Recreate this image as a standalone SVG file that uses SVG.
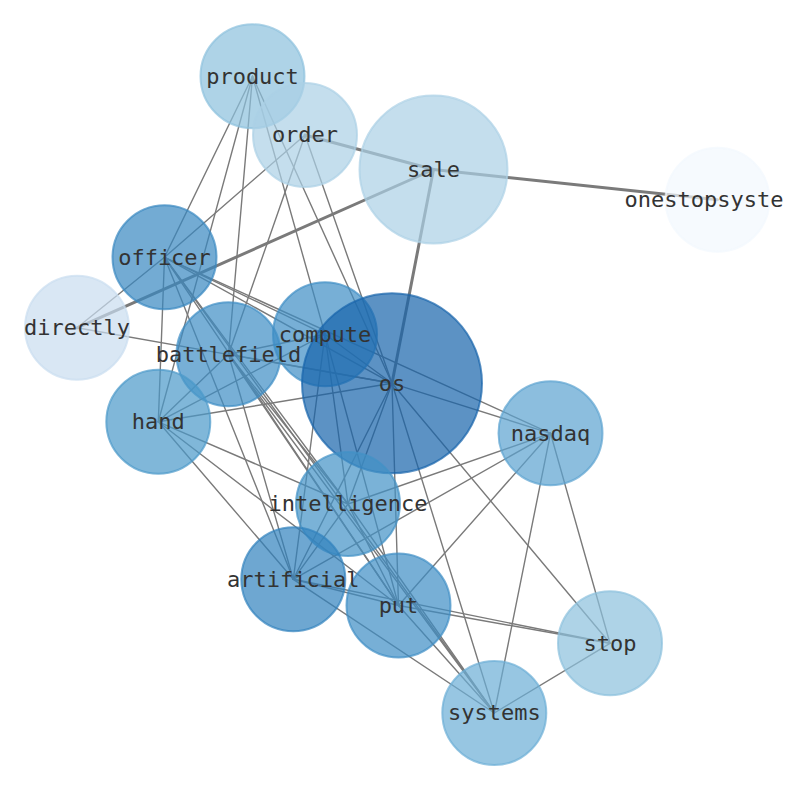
<svg xmlns="http://www.w3.org/2000/svg" width="794" height="790" viewBox="0 0 794 790">
<style>
.e line{stroke:#7a7a7a;stroke-width:1.4;stroke-linecap:round}
.e line.t{stroke-width:3}
.n circle{fill-opacity:0.7;stroke-opacity:0.7;stroke-width:2}
.n text{font-family:"DejaVu Sans Mono","Liberation Mono",monospace;font-size:22px;fill:#333;text-anchor:middle}
</style>
<rect width="794" height="790" fill="#fff"/>
<g id="edges" class="e">
<line class="t" x1="433.5" y1="169.5" x2="717.5" y2="199.7"/>
<line class="t" x1="433.5" y1="169.5" x2="305" y2="135"/>
<line class="t" x1="433.5" y1="169.5" x2="77" y2="327.8"/>
<line class="t" x1="433.5" y1="169.5" x2="392" y2="383.3"/>
<line x1="252.5" y1="76.3" x2="164.5" y2="257.3"/>
<line x1="252.5" y1="76.3" x2="158.3" y2="421.8"/>
<line x1="252.5" y1="76.3" x2="228.5" y2="354.3"/>
<line x1="252.5" y1="76.3" x2="325" y2="334.3"/>
<line x1="252.5" y1="76.3" x2="392" y2="383.3"/>
<line x1="305" y1="135" x2="164.5" y2="257.3"/>
<line x1="305" y1="135" x2="228.5" y2="354.3"/>
<line x1="305" y1="135" x2="392" y2="383.3"/>
<line x1="164.5" y1="257.3" x2="77" y2="327.8"/>
<line x1="164.5" y1="257.3" x2="158.3" y2="421.8"/>
<line x1="164.5" y1="257.3" x2="325" y2="334.3"/>
<line x1="164.5" y1="257.3" x2="392" y2="383.3"/>
<line x1="164.5" y1="257.3" x2="550.5" y2="433.3"/>
<line x1="164.5" y1="257.3" x2="348" y2="504"/>
<line x1="164.5" y1="257.3" x2="293.3" y2="579.3"/>
<line x1="164.5" y1="257.3" x2="398.5" y2="605.5"/>
<line x1="164.5" y1="257.3" x2="494.3" y2="713"/>
<line x1="77" y1="327.8" x2="392" y2="383.3"/>
<line x1="228.5" y1="354.3" x2="325" y2="334.3"/>
<line x1="228.5" y1="354.3" x2="392" y2="383.3"/>
<line x1="228.5" y1="354.3" x2="158.3" y2="421.8"/>
<line x1="228.5" y1="354.3" x2="348" y2="504"/>
<line x1="228.5" y1="354.3" x2="293.3" y2="579.3"/>
<line x1="228.5" y1="354.3" x2="398.5" y2="605.5"/>
<line x1="228.5" y1="354.3" x2="494.3" y2="713"/>
<line x1="325" y1="334.3" x2="392" y2="383.3"/>
<line x1="325" y1="334.3" x2="348" y2="504"/>
<line x1="325" y1="334.3" x2="293.3" y2="579.3"/>
<line x1="325" y1="334.3" x2="398.5" y2="605.5"/>
<line x1="325" y1="334.3" x2="158.3" y2="421.8"/>
<line x1="392" y1="383.3" x2="158.3" y2="421.8"/>
<line x1="392" y1="383.3" x2="550.5" y2="433.3"/>
<line x1="392" y1="383.3" x2="348" y2="504"/>
<line x1="392" y1="383.3" x2="293.3" y2="579.3"/>
<line x1="392" y1="383.3" x2="398.5" y2="605.5"/>
<line x1="392" y1="383.3" x2="610" y2="643.3"/>
<line x1="392" y1="383.3" x2="494.3" y2="713"/>
<line x1="158.3" y1="421.8" x2="348" y2="504"/>
<line x1="158.3" y1="421.8" x2="293.3" y2="579.3"/>
<line x1="158.3" y1="421.8" x2="398.5" y2="605.5"/>
<line x1="550.5" y1="433.3" x2="348" y2="504"/>
<line x1="550.5" y1="433.3" x2="293.3" y2="579.3"/>
<line x1="550.5" y1="433.3" x2="398.5" y2="605.5"/>
<line x1="550.5" y1="433.3" x2="494.3" y2="713"/>
<line x1="550.5" y1="433.3" x2="610" y2="643.3"/>
<line x1="348" y1="504" x2="293.3" y2="579.3"/>
<line x1="348" y1="504" x2="398.5" y2="605.5"/>
<line x1="348" y1="504" x2="494.3" y2="713"/>
<line x1="293.3" y1="579.3" x2="398.5" y2="605.5"/>
<line x1="293.3" y1="579.3" x2="610" y2="643.3"/>
<line x1="293.3" y1="579.3" x2="494.3" y2="713"/>
<line x1="398.5" y1="605.5" x2="610" y2="643.3"/>
<line x1="398.5" y1="605.5" x2="494.3" y2="713"/>
<line x1="610" y1="643.3" x2="494.3" y2="713"/>
</g>
<g class="n">
<g id="product"><circle cx="252.5" cy="76.3" r="52" fill="#8cc0dd" stroke="#8cc0dd"/></g>
<g id="order"><circle cx="305" cy="135" r="52" fill="#abd0e6" stroke="#abd0e6"/></g>
<g id="sale"><circle cx="433.5" cy="169.5" r="74" fill="#abd0e6" stroke="#abd0e6"/></g>
<g id="onestopsyste"><circle cx="717.5" cy="199.7" r="52" fill="#f2f8fd" stroke="#f2f8fd"/></g>
<g id="officer"><circle cx="164.5" cy="257.3" r="52" fill="#3787c0" stroke="#3787c0"/></g>
<g id="directly"><circle cx="77" cy="327.8" r="52" fill="#c9ddf0" stroke="#c9ddf0"/></g>
<g id="compute"><circle cx="325" cy="334.3" r="52" fill="#3d8dc4" stroke="#3d8dc4"/></g>
<g id="battlefield"><circle cx="228.5" cy="354.3" r="52" fill="#3d8dc4" stroke="#3d8dc4"/></g>
<g id="os"><circle cx="392" cy="383.3" r="90" fill="#1764ab" stroke="#1764ab"/></g>
<g id="hand"><circle cx="158.3" cy="421.8" r="52" fill="#4a98c9" stroke="#4a98c9"/></g>
<g id="nasdaq"><circle cx="550.5" cy="433.3" r="52" fill="#5ba3d0" stroke="#5ba3d0"/></g>
<g id="intelligence"><circle cx="348" cy="504" r="52" fill="#4292c6" stroke="#4292c6"/></g>
<g id="artificial"><circle cx="293.3" cy="579.3" r="52" fill="#3181bd" stroke="#3181bd"/></g>
<g id="put"><circle cx="398.5" cy="605.5" r="52" fill="#3d8dc4" stroke="#3d8dc4"/></g>
<g id="stop"><circle cx="610" cy="643.3" r="52" fill="#8cc0dd" stroke="#8cc0dd"/></g>
<g id="systems"><circle cx="494.3" cy="713" r="52" fill="#6baed6" stroke="#6baed6"/></g>
</g>
<g id="labels" class="n">
<text x="252.5" y="83.5">product</text>
<text x="305" y="142">order</text>
<text x="433.5" y="176.5">sale</text>
<text x="704" y="206.5">onestopsyste</text>
<text x="164.5" y="264.5">officer</text>
<text x="77" y="335">directly</text>
<text x="325" y="341.5">compute</text>
<text x="228.5" y="361.5">battlefield</text>
<text x="392" y="390.5">os</text>
<text x="158.3" y="429">hand</text>
<text x="550.5" y="440.5">nasdaq</text>
<text x="348" y="511">intelligence</text>
<text x="293.3" y="586.5">artificial</text>
<text x="398.5" y="612.5">put</text>
<text x="610" y="650.5">stop</text>
<text x="494.3" y="720">systems</text>
</g>
</svg>
